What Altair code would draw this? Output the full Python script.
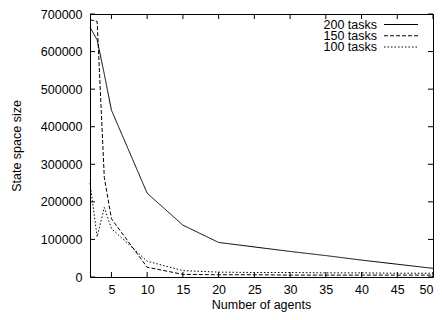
import altair as alt
import pandas as pd

# ---- data ----
agents = [2, 3, 4, 5, 10, 15, 20, 25, 30, 35, 40, 45, 50]
tasks200 = [665000, 631000, 540000, 444000, 223000, 138000, 92000, 80000, 68000, 57000, 45000, 34000, 23000]
tasks150 = [685000, 680000, 265000, 155000, 26000, 7000, 6000, 6000, 5000, 5000, 5000, 5000, 5000]
tasks100 = [250000, 107000, 185000, 129000, 42000, 17000, 13000, 12000, 12000, 11000, 11000, 10000, 10000]
series_names = ["200 tasks", "150 tasks", "100 tasks"]
x_ticks = [5, 10, 15, 20, 25, 30, 35, 40, 45, 50]
y_ticks = [0, 100000, 200000, 300000, 400000, 500000, 600000, 700000]

W, H = 343, 263
FONT = "Liberation Sans"
FS = 12.5

rows = []
for name, vals in zip(series_names, [tasks200, tasks150, tasks100]):
    for a, v in zip(agents, vals):
        rows.append({"agents": a, "size": v, "series": name})
df = pd.DataFrame(rows)

dash_scale = alt.Scale(domain=series_names, range=[[1, 0], [4, 2], [1.5, 2]])
xscale = alt.Scale(domain=[2, 50], nice=False, zero=False)
yscale = alt.Scale(domain=[0, 700000], nice=False)

xaxis = alt.Axis(values=x_ticks, title="Number of agents", labelPadding=6,
                 titleX=171, titleY=34, titleBaseline="bottom")
yaxis = alt.Axis(values=y_ticks, format="d", title="State space size", labelPadding=8,
                 titleX=-74, titleY=H / 2, titleAlign="center", titleBaseline="middle",
                 titleAngle=270)

lines = alt.Chart(df).mark_line(strokeWidth=1, color="black").encode(
    x=alt.X("agents:Q", scale=xscale, axis=xaxis),
    y=alt.Y("size:Q", scale=yscale, axis=yaxis),
    strokeDash=alt.StrokeDash("series:N", scale=dash_scale, legend=None),
)

xt = pd.DataFrame({"agents": x_ticks})
yt = pd.DataFrame({"size": y_ticks})
TL = 5
xb = alt.Chart(xt).mark_rule(color="black", strokeWidth=1).encode(
    x=alt.X("agents:Q", scale=xscale, axis=xaxis), y=alt.value(H), y2=alt.value(H - TL))
xtop = alt.Chart(xt).mark_rule(color="black", strokeWidth=1).encode(
    x=alt.X("agents:Q", scale=xscale, axis=xaxis), y=alt.value(0), y2=alt.value(TL))
yl = alt.Chart(yt).mark_rule(color="black", strokeWidth=1).encode(
    y=alt.Y("size:Q", scale=yscale, axis=yaxis), x=alt.value(0), x2=alt.value(TL))
yr = alt.Chart(yt).mark_rule(color="black", strokeWidth=1).encode(
    y=alt.Y("size:Q", scale=yscale, axis=yaxis), x=alt.value(W), x2=alt.value(W - TL))

inner = alt.layer(lines, xb, xtop, yl, yr)

leg = pd.DataFrame({"series": series_names})
leg_y = alt.Y("series:N", scale=alt.Scale(type="point", domain=series_names, range=[10.5, 33], padding=0),
              axis=None)
leg_text = alt.Chart(leg).mark_text(align="right", baseline="middle", font=FONT, fontSize=FS,
                                    color="black").encode(
    text="series:N", x=alt.value(287), y=leg_y)
leg_line = alt.Chart(leg).mark_rule(color="black", strokeWidth=1).encode(
    x=alt.value(294), x2=alt.value(328), y=leg_y,
    strokeDash=alt.StrokeDash("series:N", scale=dash_scale, legend=None))
legend = alt.layer(leg_text, leg_line)

chart = alt.layer(inner, legend).resolve_scale(y="independent").properties(
    width=W, height=H,
    autosize=alt.AutoSizeParams(type="none"),
    padding={"left": 82, "top": 6, "right": 1, "bottom": 35},
).configure_view(stroke="black", strokeWidth=1).configure_axis(
    labelFont=FONT, titleFont=FONT, labelFontSize=FS, titleFontSize=FS,
    labelColor="black", titleColor="black", ticks=False, tickSize=0,
    domain=False, grid=False, titleFontWeight="normal",
)

chart.save("out.html", embed_options={"renderer": "svg", "actions": False})
